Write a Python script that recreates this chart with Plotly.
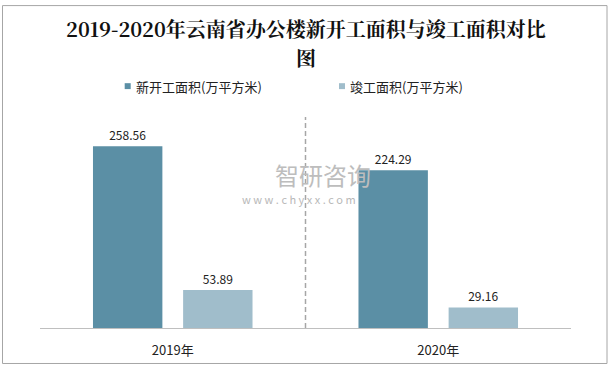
import plotly.graph_objects as go

categories = ["2019年", "2020年"]
new_start = [258.56, 224.29]
completed = [53.89, 29.16]
series_names = ["新开工面积(万平方米)", "竣工面积(万平方米)"]
colors = ["#5B8FA5", "#A0BDCB"]
title_lines = ["2019-2020年云南省办公楼新开工面积与竣工面积对比", "图"]

font_main = "Microsoft YaHei, Noto Sans CJK SC, sans-serif"
font_title = "SimSun, Noto Serif CJK SC, DejaVu Serif, Noto Sans CJK SC, serif"

fig = go.Figure()
for name, vals, col in zip(series_names, [new_start, completed], colors):
    fig.add_trace(go.Bar(
        x=categories, y=vals, name=name, marker=dict(color=col, line=dict(width=0)),
        text=[f"{v:.2f}" for v in vals], textposition="outside",
        textfont=dict(size=12, color="#222222", family=font_main),
        cliponaxis=False, showlegend=False, hoverinfo="skip",
    ))

# legend drawn as small squares + labels (paper coordinates)
legend_x = [0.1595, 0.5631]
shapes = []
annotations = []
for lx, name, col in zip(legend_x, series_names, colors):
    shapes.append(dict(type="rect", xref="paper", yref="paper", x0=lx, x1=lx + 0.0113,
                       y0=1.1322, y1=1.1603, fillcolor=col, line=dict(width=0)))
    annotations.append(dict(text=name, xref="paper", yref="paper", x=lx + 0.0175, y=1.1449,
                            xanchor="left", yanchor="middle", showarrow=False,
                            font=dict(size=13, color="#222222", family=font_main)))

# title lines
for txt, ty in zip(title_lines, [1.4206, 1.2804]):
    annotations.append(dict(text=f"<b>{txt}</b>", xref="paper", yref="paper", x=0.5, y=ty,
                            xanchor="center", yanchor="middle", showarrow=False,
                            font=dict(size=20, color="#111111", family=font_title)))

# watermark
annotations += [
    dict(text="智研咨询", xref="paper", yref="paper", x=0.533, y=0.729,
         xanchor="center", yanchor="middle", showarrow=False,
         font=dict(size=24, color="#BDBDBD", family=font_main)),
    dict(text="w w w . c h y x x . c o m", xref="paper", yref="paper", x=0.4878, y=0.6121,
         xanchor="center", yanchor="middle", showarrow=False,
         font=dict(size=11, color="#B8B8B8", family=font_main)),
]

shapes += [
    dict(type="line", xref="x", yref="paper", x0=0.5, x1=0.5, y0=0, y1=1.0,
         line=dict(color="#A6A6A6", width=1.5, dash="5px,3px")),
    dict(type="rect", xref="paper", yref="paper", x0=-0.0706, x1=1.0678,
         y0=-0.1682, y1=1.528, line=dict(color="#A6A6A6", width=1)),
]

fig.update_layout(
    width=613, height=371,
    margin=dict(l=40, r=42, t=117, b=40),
    paper_bgcolor="white", plot_bgcolor="white",
    barmode="group", bargap=0.321, bargroupgap=0.23,
    hovermode=False,
    xaxis=dict(
        showline=True, linecolor="#BFBFBF", linewidth=1, ticks="",
        tickfont=dict(size=13, color="#222222", family=font_main),
        showgrid=False, ticklabelstandoff=10, fixedrange=True,
    ),
    yaxis=dict(range=[0, 300], visible=False, showgrid=False, fixedrange=True),
    shapes=shapes,
    annotations=annotations,
    showlegend=False,
)

fig.write_html("out.html", config={"displayModeBar": False},
               post_script="document.body.style.margin='0';")
